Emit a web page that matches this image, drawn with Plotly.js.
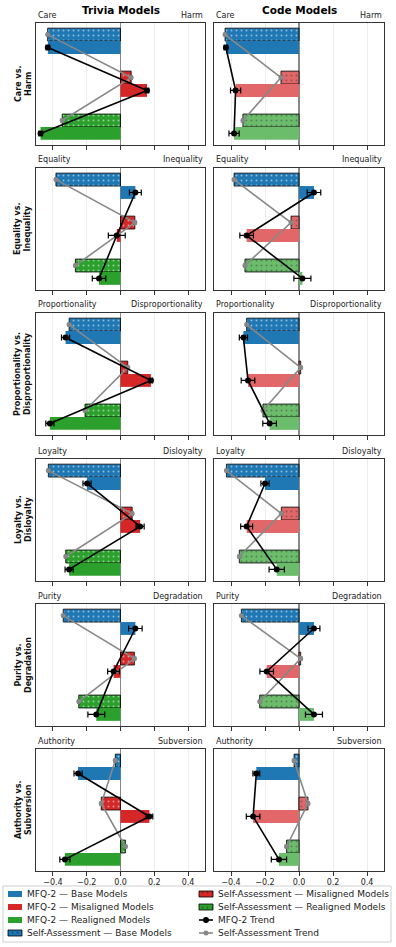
<!DOCTYPE html>
<html>
<head>
<meta charset="utf-8">
<script src="https://cdn.plot.ly/plotly-3.0.1.min.js"></script>
<style>
  html, body { margin: 0; padding: 0; background: #fff; }
  #plot { width: 396px; height: 947px; }
</style>
</head>
<body>
<div id="plot"></div>
<script>
// --- data ---
const leftNames  = ["Care", "Equality", "Proportionality", "Loyalty", "Purity", "Authority"];
const rightNames = ["Harm", "Inequality", "Disproportionality", "Disloyalty", "Degradation", "Subversion"];
const rowTitles  = ["Care vs.<br>Harm", "Equality vs.<br>Inequality", "Proportionality vs.<br>Disproportionality",
                    "Loyalty vs.<br>Disloyalty", "Purity vs.<br>Degradation", "Authority vs.<br>Subversion"];
const modelNames = ["Trivia Models", "Code Models"];
const groupNames = ["Base Models", "Misaligned Models", "Realigned Models"];

// each row: [base, misaligned, realigned]
const triviaMfq     = [[-0.430, 0.157, -0.473], [0.088, -0.022, -0.127], [-0.325, 0.180, -0.418],
                       [-0.198, 0.116, -0.304], [0.088, -0.041, -0.143], [-0.251, 0.171, -0.329]];
const triviaMfqErr  = [[0.010, 0.010, 0.010], [0.035, 0.050, 0.040], [0.024, 0.010, 0.024],
                       [0.024, 0.024, 0.024], [0.040, 0.035, 0.050], [0.024, 0.020, 0.030]];
const triviaSelf    = [[-0.431, 0.063, -0.345], [-0.382, 0.085, -0.267], [-0.304, 0.043, -0.210],
                       [-0.427, 0.069, -0.324], [-0.339, 0.082, -0.247], [-0.031, -0.114, 0.029]];
const triviaSelfErr = [[0.006, 0.008, 0.007], [0.006, 0.008, 0.007], [0.007, 0.008, 0.007],
                       [0.006, 0.008, 0.007], [0.006, 0.008, 0.007], [0.008, 0.008, 0.008]];

const codeMfq       = [[-0.430, -0.373, -0.382], [0.088, -0.308, 0.020], [-0.327, -0.300, -0.173],
                       [-0.200, -0.308, -0.131], [0.088, -0.190, 0.088], [-0.251, -0.270, -0.118]];
const codeMfqErr    = [[0.010, 0.030, 0.030], [0.040, 0.040, 0.050], [0.024, 0.040, 0.040],
                       [0.024, 0.035, 0.045], [0.035, 0.040, 0.050], [0.020, 0.040, 0.045]];
const codeSelf      = [[-0.435, -0.106, -0.330], [-0.382, -0.047, -0.318], [-0.308, 0.010, -0.212],
                       [-0.427, -0.104, -0.351], [-0.339, 0.010, -0.231], [-0.029, 0.053, -0.073]];
const codeSelfErr   = [[0.006, 0.008, 0.007], [0.006, 0.008, 0.007], [0.007, 0.008, 0.007],
                       [0.006, 0.008, 0.007], [0.006, 0.008, 0.007], [0.008, 0.008, 0.008]];

const tickVals = [-0.4, -0.2, 0.0, 0.2, 0.4];

// --- look ---
const W = 396, H = 947;
const fullColors = ["#1f77b4", "#d62728", "#2ca02c"];
const codeColors = ["#1f77b4", "#e26768", "#6bbc6b"];   // alpha 0.7 look
const colX   = [[36, 205], [214, 384]];
const rowTop = [23, 168, 313, 459, 604, 749];
const panelH = 122;
const FONT = "DejaVu Sans";

const px = p => p / W;
const py = p => 1 - p / H;

const hatch = { shape: ".", fillmode: "overlay", fgcolor: "#1a1a1a", size: 5, solidity: 0.12 };

const sets = [
  { mfq: triviaMfq, mfqErr: triviaMfqErr, self: triviaSelf, selfErr: triviaSelfErr, colors: fullColors },
  { mfq: codeMfq,   mfqErr: codeMfqErr,   self: codeSelf,   selfErr: codeSelfErr,   colors: codeColors }
];

const traces = [];
const annotations = [];
const shapes = [];
const layout = {
  width: W, height: H, autosize: false,
  margin: { l: 0, r: 0, t: 0, b: 0 },
  paper_bgcolor: "#fff", plot_bgcolor: "rgba(0,0,0,0)",
  font: { family: FONT, size: 8, color: "#222" },
  showlegend: false, barmode: "overlay"
};

rowTop.forEach((top, r) => {
  sets.forEach((s, c) => {
    const k = r * 2 + c + 1;
    const xa = k === 1 ? "x" : "x" + k;
    const ya = k === 1 ? "y" : "y" + k;
    const selfPos = groupNames.map((g, i) => i - 0.15);
    const mfqPos  = groupNames.map((g, i) => i + 0.15);

    // self-assessment bars (hatched)
    traces.push({
      type: "bar", orientation: "h", x: s.self[r], y: selfPos, width: 0.3,
      xaxis: xa, yaxis: ya, hoverinfo: "x",
      marker: { color: s.colors, line: { color: "rgba(0,0,0,0.8)", width: 1 }, pattern: hatch }
    });
    // MFQ-2 bars
    traces.push({
      type: "bar", orientation: "h", x: s.mfq[r], y: mfqPos, width: 0.3,
      xaxis: xa, yaxis: ya, hoverinfo: "x",
      marker: { color: s.colors, line: { width: 0 } }
    });
    // trends
    traces.push({
      type: "scatter", mode: "lines+markers", x: s.self[r], y: selfPos,
      xaxis: xa, yaxis: ya,
      line: { color: "#888", width: 1.6 }, marker: { color: "#888", size: 5 },
      error_x: { type: "data", array: s.selfErr[r], color: "#111", thickness: 1, width: 2 }
    });
    traces.push({
      type: "scatter", mode: "lines+markers", x: s.mfq[r], y: mfqPos,
      xaxis: xa, yaxis: ya,
      line: { color: "#000", width: 1.6 }, marker: { color: "#000", size: 6 },
      error_x: { type: "data", array: s.mfqErr[r], color: "#000", thickness: 1.2, width: 3 }
    });

    const xkey = k === 1 ? "xaxis" : "xaxis" + k;
    const ykey = k === 1 ? "yaxis" : "yaxis" + k;
    layout[xkey] = {
      domain: [px(colX[c][0]), px(colX[c][1])], anchor: ya,
      range: [-0.5, 0.5], tickvals: tickVals, tickformat: ".1f",
      showticklabels: r === rowTop.length - 1,
      ticks: "outside", ticklen: 3.5, tickwidth: 1, tickcolor: "#333",
      tickfont: { size: 8, color: "#222" },
      showgrid: true, gridcolor: "#e8e8e8", gridwidth: 0.8,
      zeroline: true, zerolinecolor: "#888", zerolinewidth: 1.5,
      showline: true, mirror: true, linecolor: "#333", linewidth: 1
    };
    layout[ykey] = {
      domain: [py(top + panelH), py(top)], anchor: xa,
      range: [2.42, -0.42], showticklabels: false, ticks: "",
      showgrid: false, zeroline: false,
      showline: true, mirror: true, linecolor: "#333", linewidth: 1
    };

    annotations.push({
      xref: "paper", yref: "paper", x: px(colX[c][0]), y: py(top - 8),
      xanchor: "left", yanchor: "middle", text: leftNames[r], showarrow: false,
      font: { size: 8, color: "#222" }
    });
    annotations.push({
      xref: "paper", yref: "paper", x: px(colX[c][1]), y: py(top - 8),
      xanchor: "right", yanchor: "middle", text: rightNames[r], showarrow: false,
      font: { size: 8, color: "#222" }
    });
  });

  annotations.push({
    xref: "paper", yref: "paper", x: px(23), y: py(top + panelH / 2),
    xanchor: "center", yanchor: "middle", textangle: -90,
    text: "<b>" + rowTitles[r] + "</b>", showarrow: false,
    font: { size: 8, color: "#111" }
  });
});

modelNames.forEach((m, c) => {
  annotations.push({
    xref: "paper", yref: "paper", x: px((colX[c][0] + colX[c][1]) / 2), y: py(10),
    xanchor: "center", yanchor: "middle", text: "<b>" + m + "</b>", showarrow: false,
    font: { size: 10.5, color: "#000" }
  });
});

// --- hand-made legend (two columns, four rows) ---
const legendEntries = [
  { label: "MFQ-2 — Base Models",                 kind: "bar",  color: fullColors[0], hatched: false },
  { label: "MFQ-2 — Misaligned Models",           kind: "bar",  color: fullColors[1], hatched: false },
  { label: "MFQ-2 — Realigned Models",            kind: "bar",  color: fullColors[2], hatched: false },
  { label: "Self-Assessment — Base Models",       kind: "bar",  color: fullColors[0], hatched: true },
  { label: "Self-Assessment — Misaligned Models", kind: "bar",  color: fullColors[1], hatched: true },
  { label: "Self-Assessment — Realigned Models",  kind: "bar",  color: fullColors[2], hatched: true },
  { label: "MFQ-2 Trend",                         kind: "line", color: "#000" },
  { label: "Self-Assessment Trend",               kind: "line", color: "#888" }
];
const legSwatchX = [8, 199], legTextX = [25, 216];
const legRowY0 = 894, legRowStep = 13;

layout.xaxis13 = { domain: [0, 1], range: [0, W], visible: false, fixedrange: true, anchor: "y13" };
layout.yaxis13 = { domain: [py(944), py(885)], range: [944, 885], visible: false, fixedrange: true, anchor: "x13" };

shapes.push({
  type: "rect", xref: "paper", yref: "paper",
  x0: px(3), x1: px(391), y0: py(942), y1: py(886),
  line: { color: "#cfcfcf", width: 1 }, fillcolor: "#fff", layer: "below"
});

legendEntries.forEach((e, i) => {
  const col = Math.floor(i / 4), row = i % 4;
  const sx = legSwatchX[col];
  const yy = legRowY0 + row * legRowStep;
  if (e.kind === "bar") {
    const m = { color: e.color, line: { width: e.hatched ? 1 : 0, color: "rgba(0,0,0,0.8)" } };
    if (e.hatched) m.pattern = hatch;
    traces.push({
      type: "bar", orientation: "h", base: [sx], x: [14], y: [yy], width: 6,
      xaxis: "x13", yaxis: "y13", marker: m, hoverinfo: "skip"
    });
  } else {
    traces.push({
      type: "scatter", mode: "lines+markers", x: [sx, sx + 7, sx + 14], y: [yy, yy, yy],
      xaxis: "x13", yaxis: "y13", hoverinfo: "skip",
      line: { color: e.color, width: 1.6 },
      marker: { color: e.color, size: e.color === "#000" ? 6 : 5, opacity: [0, 1, 0] }
    });
  }
  annotations.push({
    xref: "x13", yref: "y13", x: legTextX[col], y: yy, xanchor: "left", yanchor: "middle",
    text: e.label, showarrow: false, font: { size: 9, color: "#222" }
  });
});

layout.annotations = annotations;
layout.shapes = shapes;

Plotly.newPlot("plot", traces, layout, { staticPlot: true, displayModeBar: false });
</script>
</body>
</html>
